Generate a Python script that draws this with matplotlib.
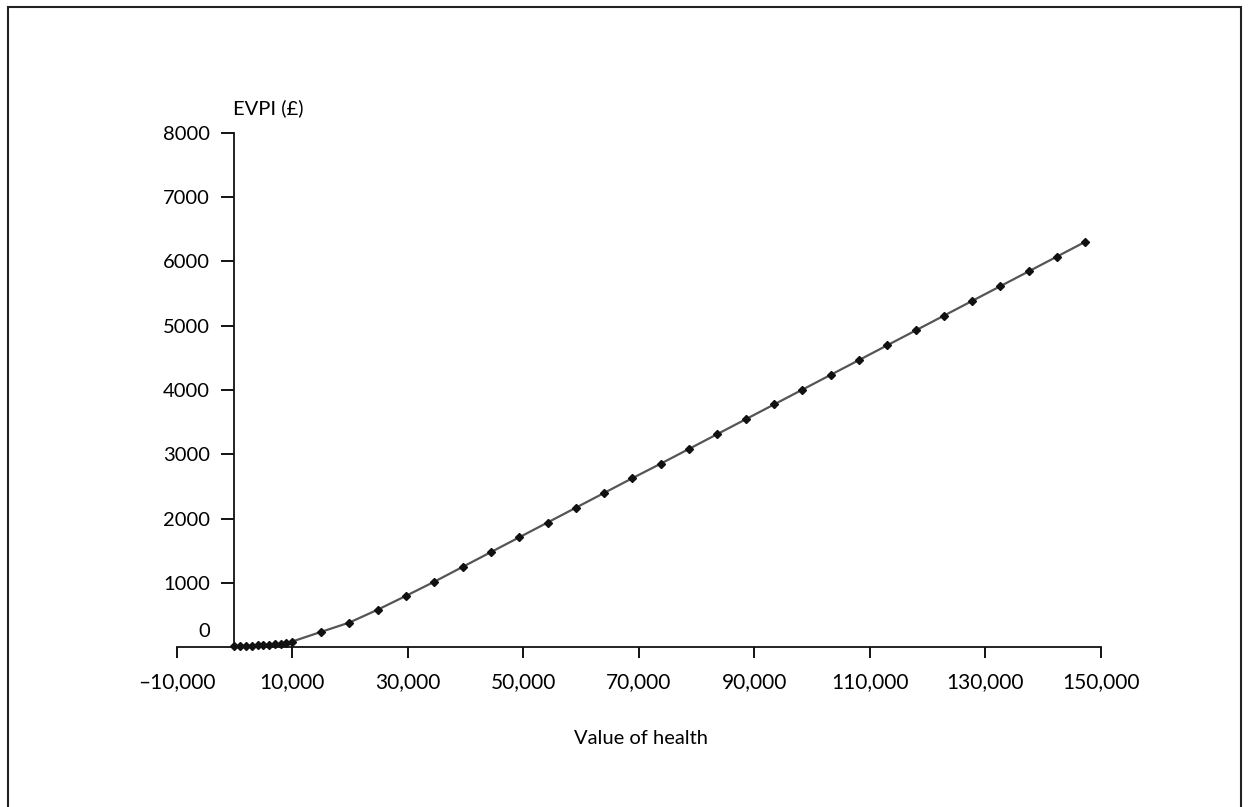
import matplotlib
matplotlib.use('Agg')
import matplotlib.pyplot as plt
from matplotlib.patches import Rectangle

plt.rcParams['font.family'] = ['Lato', 'DejaVu Sans']

# value of health (x) and EVPI in pounds (y)
value_of_health = [0, 1000, 2000, 3000, 4000, 5000, 6000, 7000, 8000, 9000, 10000,
                   15000, 19900, 24800, 29700, 34600, 39500, 44400, 49300, 54200,
                   59100, 64000, 68900, 73800, 78700, 83600, 88500, 93400, 98300,
                   103200, 108100, 113000, 117900, 122800, 127700, 132600, 137500,
                   142400, 147300]
evpi = [20, 22, 24, 26, 28, 32, 38, 46, 56, 70, 90,
        240, 385, 585, 800, 1020, 1250, 1480, 1710, 1940,
        2170, 2400, 2630, 2855, 3085, 3315, 3545, 3775, 4005,
        4235, 4465, 4695, 4925, 5155, 5385, 5615, 5845, 6075, 6305]

x_ticks = [-10000, 10000, 30000, 50000, 70000, 90000, 110000, 130000, 150000]
x_tick_labels = ['\u201310,000', '10,000', '30,000', '50,000', '70,000',
                 '90,000', '110,000', '130,000', '150,000']
y_ticks = [1000, 2000, 3000, 4000, 5000, 6000, 7000, 8000]

fig = plt.figure(figsize=(12.5, 8.07), dpi=100)
W, H = 1250, 807
ax = fig.add_axes([176.7 / W, 1 - 647.3 / H, (1101 - 176.7) / W, (647.3 - 132.7) / H])

ax.plot(value_of_health, evpi, color='#555555', lw=1.6, zorder=2, clip_on=False)
ax.plot(value_of_health, evpi, ls='none', marker='D', ms=4.5, color='#111111',
        zorder=3, clip_on=False)

ax.set_xlim(-10000, 150000)
ax.set_ylim(0, 8000)

ax.spines['top'].set_visible(False)
ax.spines['right'].set_visible(False)
ax.spines['left'].set_position(('data', 0))
for s in ('left', 'bottom'):
    ax.spines[s].set_linewidth(1.3)
    ax.spines[s].set_color('#111111')

ax.set_xticks(x_ticks)
ax.set_xticklabels(x_tick_labels)
ax.set_yticks(y_ticks)
ax.set_yticklabels([str(v) for v in y_ticks])
ax.tick_params(axis='x', direction='out', length=8, width=1.3, pad=10, labelsize=15)
ax.tick_params(axis='y', direction='out', length=9.5, width=1.3, pad=8, labelsize=14.5)

ax.annotate('0', xy=(0, 0), xycoords='data', xytext=(-17.3, 11.2),
            textcoords='offset points', ha='right', va='center', fontsize=14.5)
ax.annotate('EVPI (\u00a3)', xy=(0, 8000), xycoords='data', xytext=(-1, 17.8),
            textcoords='offset points', ha='left', va='center', fontsize=14.5)
fig.text(641 / W, 1 - 738 / H, 'Value of health', ha='center', va='center', fontsize=14.5)

# page frame, bottom edge falls outside the picture
fig.patches.append(Rectangle((8 / W, -0.05), (1241 - 8) / W, 1.05 - 7 / H,
                             transform=fig.transFigure, fill=False,
                             edgecolor='#222222', lw=1.5))

fig.savefig('out.png', dpi=100)
